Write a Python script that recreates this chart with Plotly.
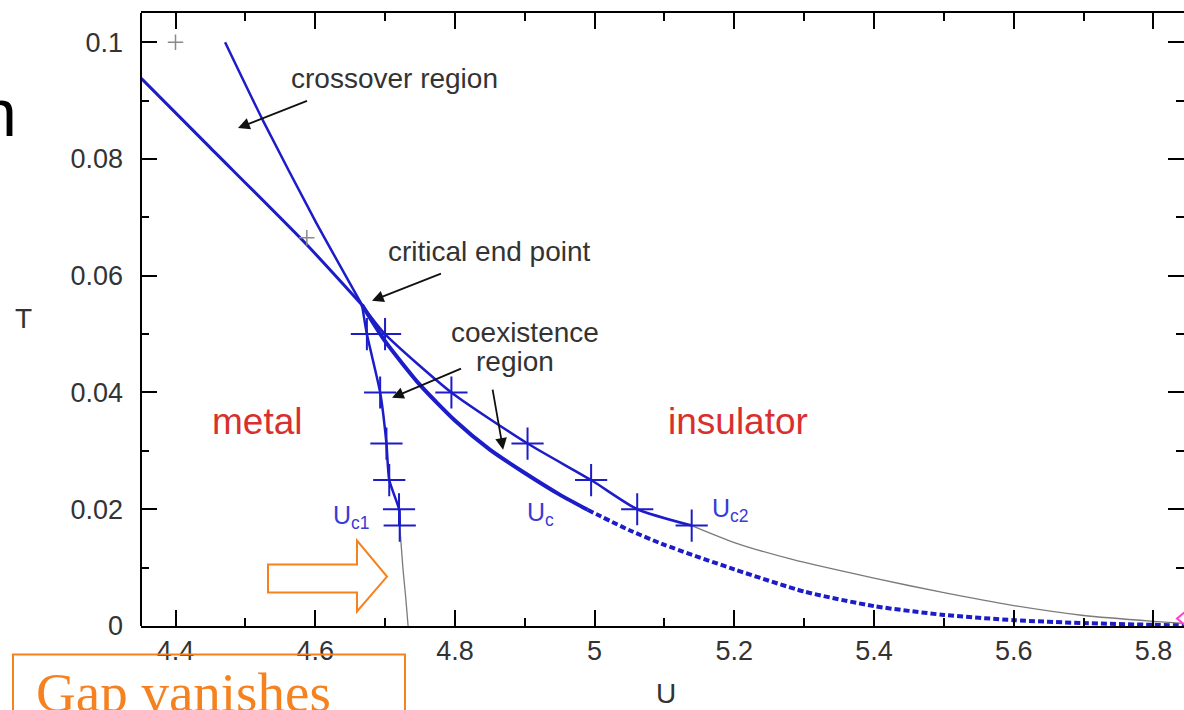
import plotly.graph_objects as go

# ---------------- data ----------------
# DMFT temperatures at which the two spinodals were located
T_dmft = [0.05, 0.04, 0.03125, 0.025, 0.02, 0.0172]
Uc1_vals = [4.674, 4.693, 4.702, 4.706, 4.720, 4.721]
Uc2_vals = [4.700, 4.795, 4.904, 4.995, 5.061, 5.139]

# critical end point
U_cep, T_cep = 4.667, 0.055

# crossover lines above the critical end point
cross_a_U = [4.351, 4.45, 4.588, 4.667]
cross_a_T = [0.0938, 0.0819, 0.0653, 0.055]
cross_b_U = [4.471, 4.526, 4.600, 4.667]
cross_b_T = [0.100, 0.0864, 0.0694, 0.055]

# low-temperature extrapolations (thin grey)
uc1_ext_U = [4.721, 4.7255, 4.7295, 4.733]
uc1_ext_T = [0.0172, 0.010, 0.005, 0.0]
uc2_ext_U = [5.139, 5.20, 5.283, 5.40, 5.50, 5.60, 5.70, 5.80, 5.85]
uc2_ext_T = [0.0172, 0.0143, 0.0114, 0.0082, 0.0057, 0.0035, 0.0018, 0.0008, 0.0004]

# first-order line U_c (solid part, then extrapolated part)
uc_U = [4.667, 4.70, 4.75, 4.80, 4.85, 4.90, 4.95, 4.99]
uc_T = [0.055, 0.0488, 0.0413, 0.0352, 0.0302, 0.0262, 0.0225, 0.0199]
uc_ext_U = [4.99, 5.05, 5.10, 5.20, 5.30, 5.40, 5.50, 5.60, 5.70, 5.80, 5.845]
uc_ext_T = [0.0199, 0.0164, 0.0139, 0.0097, 0.0059, 0.0034, 0.0019, 0.0010, 0.0005, 0.0002, 0.0001]

# grey reference points
grey_U = [4.40, 4.588]
grey_T = [0.100, 0.0665]

x_tickvals = [4.4, 4.6, 4.8, 5.0, 5.2, 5.4, 5.6, 5.8]
x_ticktext = ["4.4", "4.6", "4.8", "5", "5.2", "5.4", "5.6", "5.8"]
y_tickvals = [0, 0.02, 0.04, 0.06, 0.08, 0.1]
y_ticktext = ["0", "0.02", "0.04", "0.06", "0.08", "0.1"]

# ---------------- layout geometry ----------------
W, H = 1184, 710
ML, MR, MT, MB = 141, 0, 13, 83.5
PX_PER_U = 698.5
x0 = 4.4 - (175.5 - ML) / PX_PER_U
x1 = x0 + (W - ML - MR) / PX_PER_U
y0, y1 = 0.0, 0.105

def px(x):
    return (x - ML) / (W - ML - MR)

def py(y):
    return (H - MB - y) / (H - MT - MB)

BLUE = "#1c1cc8"
GREY = "#7a7a7a"
ORANGE = "#F5821F"
RED = "#d8302e"
FONT = "Liberation Sans"

fig = go.Figure()

def line(x, y, color=BLUE, width=2.5, dash="solid"):
    fig.add_trace(go.Scatter(x=x, y=y, mode="lines",
                             line=dict(color=color, width=width, dash=dash, shape="spline", smoothing=0.6),
                             hoverinfo="skip", showlegend=False))

line(cross_a_U, cross_a_T, width=3)
line(cross_b_U, cross_b_T, width=2.5)
line([U_cep] + Uc1_vals, [T_cep] + T_dmft, width=2.5)
line(uc1_ext_U, uc1_ext_T, color=GREY, width=1.3)
line([U_cep] + Uc2_vals, [T_cep] + T_dmft, width=2.5)
line(uc2_ext_U, uc2_ext_T, color=GREY, width=1.3)
line(uc_U, uc_T, width=4)
line(uc_ext_U, uc_ext_T, width=4, dash="6px,3px")

for xs in (Uc1_vals, Uc2_vals):
    fig.add_trace(go.Scatter(x=xs, y=T_dmft, mode="markers",
                             marker=dict(symbol="cross-thin-open", size=23, color=BLUE,
                                         line=dict(color=BLUE, width=2)),
                             hoverinfo="skip", showlegend=False))
fig.add_trace(go.Scatter(x=grey_U, y=grey_T, mode="markers",
                         marker=dict(symbol="cross-thin-open", size=11, color="#8a8a8a",
                                     line=dict(color="#8a8a8a", width=1.5)),
                         hoverinfo="skip", showlegend=False))

ann = []
def text(x, y, s, size=28, color="#333333", **kw):
    ann.append(dict(x=x, y=y, text=s, showarrow=False, font=dict(family=FONT, size=size, color=color), **kw))

def arrow(x, y, ax, ay):
    ann.append(dict(x=x, y=y, ax=ax, ay=ay, text=" ", showarrow=True, arrowhead=2, arrowsize=1.3,
                    arrowwidth=1.8, arrowcolor="#111111", standoff=0, font=dict(size=2)))

text(4.7142, 0.0938, "crossover region")
text(4.850, 0.0641, "critical end point")
text(4.9003, 0.0502, "coexistence")
text(4.886, 0.0453, "region")
text(4.5167, 0.035, "metal", size=37, color=RED)
text(5.2053, 0.035, "insulator", size=37, color=RED)
text(4.6513, 0.0187, "U<sub>c1</sub>", size=25, color="#3a3ad8")
text(4.923, 0.0191, "U<sub>c</sub>", size=25, color="#3a3ad8")
text(5.195, 0.0198, "U<sub>c2</sub>", size=25, color="#3a3ad8")

arrow(4.4895, 0.0853, 71, -28)
arrow(4.6813, 0.0557, 71, -28)
arrow(4.710, 0.0391, 71, -30)
arrow(4.869, 0.0302, -11, -63)

# axis titles
ann.append(dict(xref="paper", yref="paper", x=px(23), y=py(319), xanchor="center", yanchor="middle",
                text="T", showarrow=False, font=dict(family=FONT, size=28, color="#333333")))
ann.append(dict(xref="paper", yref="paper", x=px(666), y=py(694), xanchor="center", yanchor="middle",
                text="U", showarrow=False, font=dict(family=FONT, size=28, color="#333333")))

# slide overlay elements
ann.append(dict(xref="paper", yref="paper", x=px(19), y=py(74), xanchor="right", yanchor="top",
                text="n", showarrow=False, font=dict(family=FONT, size=66, color="#000000")))
ann.append(dict(xref="paper", yref="paper", x=px(34), y=py(661), xanchor="left", yanchor="top",
                text="Gap vanishes", showarrow=False,
                font=dict(family="Liberation Serif", size=55, color=ORANGE)))

def P(x, y):
    return f"{px(x):.5f},{py(y):.5f}"

shapes = [
    # left axis line
    dict(type="line", xref="paper", yref="paper", x0=0, x1=0, y0=0, y1=1, line=dict(color="#000", width=2)),
    # orange block arrow
    dict(type="path", xref="paper", yref="paper",
         path="M" + " L".join(P(*p) for p in [(268, 565), (357, 565), (357, 541), (387, 577), (357, 612), (357, 593), (268, 593)]) + " Z",
         line=dict(color=ORANGE, width=2), fillcolor="rgba(0,0,0,0)"),
    # orange text box
    dict(type="rect", xref="paper", yref="paper", x0=px(13), x1=px(405), y0=py(655), y1=py(730),
         line=dict(color=ORANGE, width=2)),
    # magenta marker at the right edge
    dict(type="path", xref="paper", yref="paper",
         path="M" + " L".join(P(*p) for p in [(1188, 610), (1177, 619), (1188, 628)]),
         line=dict(color="#ff3fcf", width=2)),
]

axis_common = dict(showgrid=False, zeroline=False, ticks="inside", tickcolor="#000", tickwidth=1.6,
                   ticklen=16, tickfont=dict(family=FONT, size=27, color="#333333"))

fig.update_layout(
    width=W, height=H, margin=dict(l=ML, r=MR, t=MT, b=MB, pad=0),
    paper_bgcolor="white", plot_bgcolor="white",
    xaxis=dict(range=[x0, x1], tickmode="array", tickvals=x_tickvals, ticktext=x_ticktext,
               showline=True, linecolor="#000", linewidth=2, mirror="ticks",
               minor=dict(dtick=0.1, tick0=4.4, ticks="inside", ticklen=8, tickcolor="#000", tickwidth=1.6),
               ticklabelstandoff=0, **axis_common),
    yaxis=dict(range=[y0, y1], tickmode="array", tickvals=y_tickvals, ticktext=y_ticktext,
               showline=False, mirror="ticks",
               minor=dict(dtick=0.01, tick0=0, ticks="inside", ticklen=8, tickcolor="#000", tickwidth=1.6),
               ticklabelstandoff=17, **axis_common),
    annotations=ann, shapes=shapes,
)

fig.write_html("out.html")
